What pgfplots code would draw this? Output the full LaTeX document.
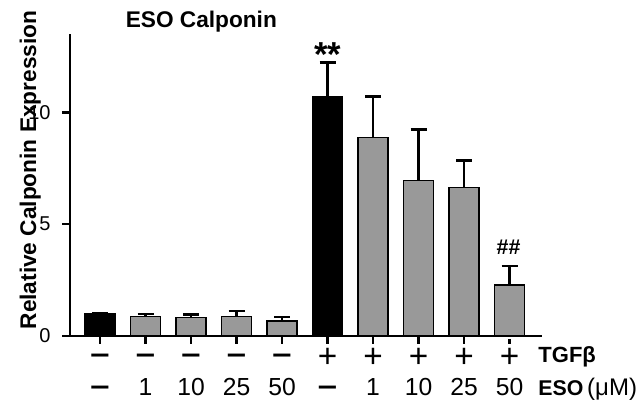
\documentclass[border=0pt]{standalone}
\usepackage{pgfplots}
\pgfplotsset{compat=1.18}
\usepackage{fontspec}
\setmainfont{Liberation Sans}
\definecolor{bargray}{RGB}{153,153,153}
\newcommand{\mn}{\bfseries –}
\tikzset{rowlab/.style={anchor=base, inner sep=0pt, font=\fontsize{18.5}{18.5}\selectfont},
  dashlab/.style={anchor=base, inner sep=0pt, xscale=1.4, yscale=1.2, font=\fontsize{18.5}{18.5}\selectfont},
  pluslab/.style={anchor=base, inner sep=0pt, font=\fontsize{25}{25}\selectfont}}
\begin{document}
\begin{tikzpicture}
\useasboundingbox (0,0) rectangle (480.75pt,301.5pt);
\begin{axis}[
  at={(52.5pt,49.5pt)}, anchor=south west,
  scale only axis, width=354pt, height=226.5pt,
  xmin=-0.66, xmax=9.714, ymin=0, ymax=13.5,
  axis x line=bottom, axis y line=left,
  axis line style={line width=2pt,-},
  every outer x axis line/.append style={-},
  every outer y axis line/.append style={-},
  ytick={0,5,10},
  xtick={0,...,9}, xticklabels={},
  tick style={line width=2pt,black},
  major tick length=6pt,
  tick align=outside,
  x tick style={shorten >=2.5pt},
  /pgf/number format/assume math mode=true,
  yticklabel style={font=\fontsize{15}{15}\selectfont, xshift=-5pt},
  clip=false,
  ybar, bar width=22.5pt, bar shift=0pt,
  error bars/y dir=plus, error bars/y explicit,
  error bars/error bar style={line width=2pt,black},
  error bars/error mark options={rotate=90, mark size=6pt, line width=2pt},
]
\addplot[fill=black, draw=black, line width=1pt] coordinates {
  (0,1.0) +- (0,0)
  (5,10.68) +- (0,1.54)
};
\addplot[fill=bargray, draw=black, line width=1pt] coordinates {
  (1,0.88) +- (0,0.11)
  (2,0.82) +- (0,0.15)
  (3,0.88) +- (0,0.24)
  (4,0.67) +- (0,0.18)
  (6,8.87) +- (0,1.84)
  (7,6.96) +- (0,2.27)
  (8,6.64) +- (0,1.20)
  (9,2.28) +- (0,0.85)
};
% significance marks
\node[anchor=north, inner sep=0pt, font=\bfseries\fontsize{26}{26}\selectfont] at (axis cs:5,13.125) {**};
\node[anchor=north, inner sep=0pt, font=\bfseries\fontsize{16}{16}\selectfont] at (axis cs:8.98,4.29) {\#\#};
% row 1
\node[dashlab] at (axis cs:0,-1.22) {\mn};
\node[dashlab] at (axis cs:1,-1.22) {\mn};
\node[dashlab] at (axis cs:2,-1.22) {\mn};
\node[dashlab] at (axis cs:3,-1.22) {\mn};
\node[dashlab] at (axis cs:4,-1.22) {\mn};
\node[pluslab] at (axis cs:5,-1.42) {+};
\node[pluslab] at (axis cs:6,-1.42) {+};
\node[pluslab] at (axis cs:7,-1.42) {+};
\node[pluslab] at (axis cs:8,-1.42) {+};
\node[pluslab] at (axis cs:9,-1.42) {+};
% row 2
\node[dashlab] at (axis cs:0,-2.65) {\mn};
\node[rowlab] at (axis cs:1,-2.68) {1};
\node[rowlab] at (axis cs:2,-2.68) {10};
\node[rowlab] at (axis cs:3,-2.68) {25};
\node[rowlab] at (axis cs:4,-2.68) {50};
\node[dashlab] at (axis cs:5,-2.65) {\mn};
\node[rowlab] at (axis cs:6,-2.68) {1};
\node[rowlab] at (axis cs:7,-2.68) {10};
\node[rowlab] at (axis cs:8,-2.68) {25};
\node[rowlab] at (axis cs:9,-2.68) {50};
\node[anchor=base west, inner sep=0pt, font=\bfseries\fontsize{16.5}{16.5}\selectfont] at (axis cs:9.63,-1.205) {TGFβ};
\node[anchor=base west, inner sep=0pt] at (axis cs:9.63,-2.68) {{\bfseries\fontsize{16}{16}\selectfont ESO} {\fontsize{18}{18}\selectfont (μM)}};
\end{axis}
\node[anchor=base, inner sep=0pt, font=\bfseries\fontsize{17}{17}\selectfont] at (151pt,280.5pt) {ESO Calponin};
\node[anchor=base, rotate=90, inner sep=0pt, font=\bfseries\fontsize{17}{17}\selectfont] at (27pt,174pt) {Relative Calponin Expression};
\end{tikzpicture}
\end{document}
